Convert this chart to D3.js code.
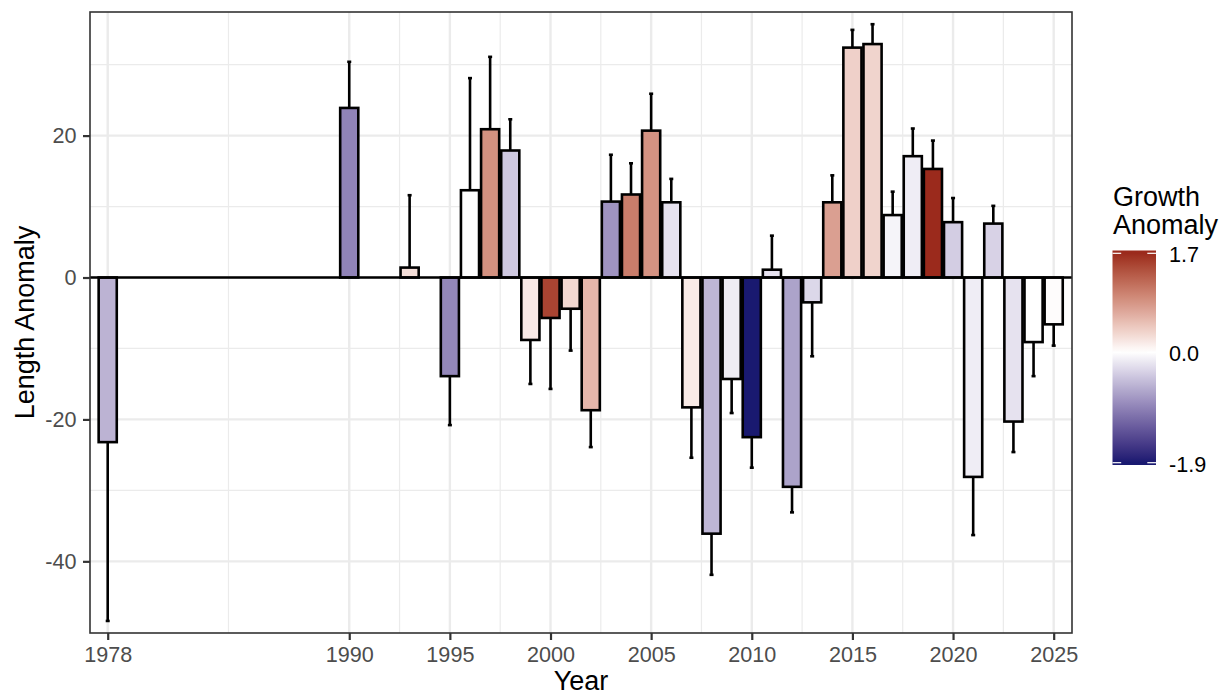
<!DOCTYPE html>
<html>
<head>
<meta charset="utf-8">
<script src="https://cdn.jsdelivr.net/npm/d3@7"></script>
<style>
    body { margin: 0; background: #fff; }
    text { font-family: "Liberation Sans", Arial, sans-serif; }
</style>
</head>
<body>
<div id="vis-container"></div>
<script>

////////////////////////////////////
////////////// Data ////////////////
////////////////////////////////////

const years = [1978, 1990, 1993, 1995, 1996, 1997, 1998, 1999, 2000, 2001, 2002, 2003, 2004,
    2005, 2006, 2007, 2008, 2009, 2010, 2011, 2012, 2013, 2014, 2015, 2016, 2017, 2018, 2019,
    2020, 2021, 2022, 2023, 2024, 2025]

const lengthAnomaly = [-23.2, 23.9, 1.4, -13.9, 12.3, 20.9, 17.9, -8.8, -5.7, -4.4, -18.7, 10.7, 11.7,
    20.7, 10.6, -18.3, -36.1, -14.3, -22.5, 1.1, -29.5, -3.5, 10.6, 32.4, 32.9, 8.8, 17.1, 15.3,
    7.8, -28.1, 7.6, -20.3, -9.1, -6.6]

// length of the error bar beyond the end of each bar
const lengthError = [25.2, 6.5, 10.2, 6.9, 15.8, 10.2, 4.4, 6.2, 10.0, 5.9, 5.2, 6.6, 4.4,
    5.2, 3.3, 7.1, 5.8, 4.8, 4.3, 4.8, 3.6, 7.6, 3.8, 2.5, 2.8, 3.3, 3.9, 4.0,
    3.4, 8.2, 2.5, 4.3, 4.8, 3.0]

const growthAnomaly = [-0.57, -0.95, 0.26, -0.92, -0.01, 0.89, -0.41, 0.17, 1.51, 0.31, 0.58, -0.82, 1.05,
    0.88, -0.21, 0.16, -0.55, -0.14, -1.9, -0.21, -0.70, -0.29, 0.77, 0.37, 0.34, -0.08, -0.13, 1.7,
    -0.37, -0.13, -0.33, -0.21, 0.0, 0.02]

const xTicks = [1978, 1990, 1995, 2000, 2005, 2010, 2015, 2020, 2025]
const xMinor = [1984, 1992.5, 1997.5, 2002.5, 2007.5, 2012.5, 2017.5, 2022.5]
const yTicks = [20, 0, -20, -40]
const yMinor = [30, 10, -10, -30]
const legendTicks = [1.7, 0.0, -1.9]

const data = years.map((y, i) => ({
    year: y,
    value: lengthAnomaly[i],
    err: lengthError[i],
    growth: growthAnomaly[i]
}))

////////////////////////////////////
///////////// SVG Setup ////////////
////////////////////////////////////

const svgWidth = 1222
const svgHeight = 696

const panel = { left: 90, right: 1072, top: 12, bottom: 633 }

const svg = d3.select('#vis-container')
    .append('svg')
    .attr('width', svgWidth)
    .attr('height', svgHeight)

svg.append('rect')
    .attr('width', svgWidth)
    .attr('height', svgHeight)
    .attr('fill', '#fff')

////////////////////////////////////
/////////////// Scales /////////////
////////////////////////////////////

let xScale = d3.scaleLinear()
    .domain([1977.12, 2025.91])
    .range([panel.left, panel.right])

let yScale = d3.scaleLinear()
    .domain([-50.1, 37.42])
    .range([panel.bottom, panel.top])

let colorScale = d3.scaleLinear()
    .domain([-1.9, 0, 1.7])
    .range(['#191970', '#ffffff', '#9b2a1c'])
    .interpolate(d3.interpolateLab)

const barWidth = 0.9
const capWidth = 0.2
const lineW = 2.6

////////////////////////////////////
/////////////// Grid ///////////////
////////////////////////////////////

const grid = svg.append('g')

grid.selectAll('.xminor')
    .data(xMinor)
    .join('line')
    .attr('x1', d => xScale(d)).attr('x2', d => xScale(d))
    .attr('y1', panel.top).attr('y2', panel.bottom)
    .attr('stroke', '#ebebeb').attr('stroke-width', 1.2)

grid.selectAll('.yminor')
    .data(yMinor)
    .join('line')
    .attr('x1', panel.left).attr('x2', panel.right)
    .attr('y1', d => yScale(d)).attr('y2', d => yScale(d))
    .attr('stroke', '#ebebeb').attr('stroke-width', 1.2)

grid.selectAll('.xmajor')
    .data(xTicks)
    .join('line')
    .attr('x1', d => xScale(d)).attr('x2', d => xScale(d))
    .attr('y1', panel.top).attr('y2', panel.bottom)
    .attr('stroke', '#ebebeb').attr('stroke-width', 2.4)

grid.selectAll('.ymajor')
    .data(yTicks)
    .join('line')
    .attr('x1', panel.left).attr('x2', panel.right)
    .attr('y1', d => yScale(d)).attr('y2', d => yScale(d))
    .attr('stroke', '#ebebeb').attr('stroke-width', 2.4)

////////////////////////////////////
//////////// Error bars ////////////
////////////////////////////////////

const errEnd = d => d.value + Math.sign(d.value) * d.err

const errG = svg.append('g')
    .attr('stroke', '#000')
    .attr('stroke-width', lineW)

errG.selectAll('.err')
    .data(data)
    .join('line')
    .attr('x1', d => xScale(d.year)).attr('x2', d => xScale(d.year))
    .attr('y1', d => yScale(d.value)).attr('y2', d => yScale(errEnd(d)))

errG.selectAll('.cap')
    .data(data)
    .join('line')
    .attr('x1', d => xScale(d.year - capWidth / 2)).attr('x2', d => xScale(d.year + capWidth / 2))
    .attr('y1', d => yScale(errEnd(d))).attr('y2', d => yScale(errEnd(d)))

////////////////////////////////////
/////////////// Bars ///////////////
////////////////////////////////////

svg.append('g')
    .selectAll('rect')
    .data(data)
    .join('rect')
    .attr('x', d => xScale(d.year - barWidth / 2))
    .attr('width', xScale(barWidth) - xScale(0))
    .attr('y', d => yScale(Math.max(0, d.value)))
    .attr('height', d => Math.abs(yScale(d.value) - yScale(0)))
    .attr('fill', d => colorScale(d.growth))
    .attr('stroke', '#000')
    .attr('stroke-width', lineW)

// zero line
svg.append('line')
    .attr('x1', panel.left).attr('x2', panel.right)
    .attr('y1', yScale(0)).attr('y2', yScale(0))
    .attr('stroke', '#000')
    .attr('stroke-width', lineW)

// panel border
svg.append('rect')
    .attr('x', panel.left).attr('y', panel.top)
    .attr('width', panel.right - panel.left)
    .attr('height', panel.bottom - panel.top)
    .attr('fill', 'none')
    .attr('stroke', '#333')
    .attr('stroke-width', 1.6)

////////////////////////////////////
////////////// Axis ////////////////
////////////////////////////////////

let xAxis = d3.axisBottom(xScale)
    .tickValues(xTicks)
    .tickFormat(d3.format('d'))
    .tickSizeInner(7)
    .tickSizeOuter(0)
    .tickPadding(7)

let yAxis = d3.axisLeft(yScale)
    .tickValues(yTicks)
    .tickFormat(d => d < 0 ? '-' + Math.abs(d) : d)
    .tickSizeInner(7)
    .tickSizeOuter(0)
    .tickPadding(6.5)

const gx = svg.append('g')
    .attr('transform', 'translate(0,' + panel.bottom + ')')
    .call(xAxis)

const gy = svg.append('g')
    .attr('transform', 'translate(' + panel.left + ',0)')
    .call(yAxis)

;[gx, gy].forEach(g => {
    g.select('.domain').remove()
    g.selectAll('.tick line').attr('stroke', '#333').attr('stroke-width', 2.2)
    g.selectAll('.tick text')
        .attr('fill', '#4d4d4d')
        .style('font-size', '21.6px')
        .style('font-family', '"Liberation Sans", Arial, sans-serif')
})

// axis titles
svg.append('text')
    .attr('x', (panel.left + panel.right) / 2)
    .attr('y', 690)
    .attr('text-anchor', 'middle')
    .style('font-size', '27px')
    .text('Year')

svg.append('text')
    .attr('transform', 'translate(34,' + (panel.top + panel.bottom) / 2 + ') rotate(-90)')
    .attr('text-anchor', 'middle')
    .style('font-size', '27px')
    .text('Length Anomaly')

////////////////////////////////////
////////////// Legend //////////////
////////////////////////////////////

const legend = { x: 1112.5, width: 43.5, top: 250.5, bottom: 465 }

let legendScale = d3.scaleLinear()
    .domain([-1.9, 1.7])
    .range([462.7, 253.3])

const defs = svg.append('defs')
const grad = defs.append('linearGradient')
    .attr('id', 'growth-grad')
    .attr('gradientUnits', 'userSpaceOnUse')
    .attr('x1', 0).attr('x2', 0)
    .attr('y1', legendScale(1.7)).attr('y2', legendScale(-1.9))

d3.range(0, 41).forEach(i => {
    const v = 1.7 - i * 3.6 / 40
    grad.append('stop')
        .attr('offset', (i / 40 * 100) + '%')
        .attr('stop-color', colorScale(v))
})

svg.append('rect')
    .attr('x', legend.x).attr('y', legend.top)
    .attr('width', legend.width)
    .attr('height', legend.bottom - legend.top)
    .attr('fill', 'url(#growth-grad)')

const tickLen = legend.width / 5
svg.append('g')
    .selectAll('g')
    .data(legendTicks)
    .join('g')
    .each(function (d) {
        const g = d3.select(this)
        const y = legendScale(d)
        g.append('line')
            .attr('x1', legend.x).attr('x2', legend.x + tickLen)
            .attr('y1', y).attr('y2', y)
            .attr('stroke', '#fff').attr('stroke-width', 1.2)
        g.append('line')
            .attr('x1', legend.x + legend.width - tickLen).attr('x2', legend.x + legend.width)
            .attr('y1', y).attr('y2', y)
            .attr('stroke', '#fff').attr('stroke-width', 1.2)
        g.append('text')
            .attr('x', 1169)
            .attr('y', y + 9)
            .style('font-size', '21.6px')
            .attr('fill', '#000')
            .text(d3.format('.1f')(d).replace('−', '-'))
    })

svg.append('text')
    .attr('x', 1113)
    .attr('y', 206)
    .style('font-size', '27px')
    .text('Growth')

svg.append('text')
    .attr('x', 1113)
    .attr('y', 234)
    .style('font-size', '27px')
    .text('Anomaly')

</script>
</body>
</html>
